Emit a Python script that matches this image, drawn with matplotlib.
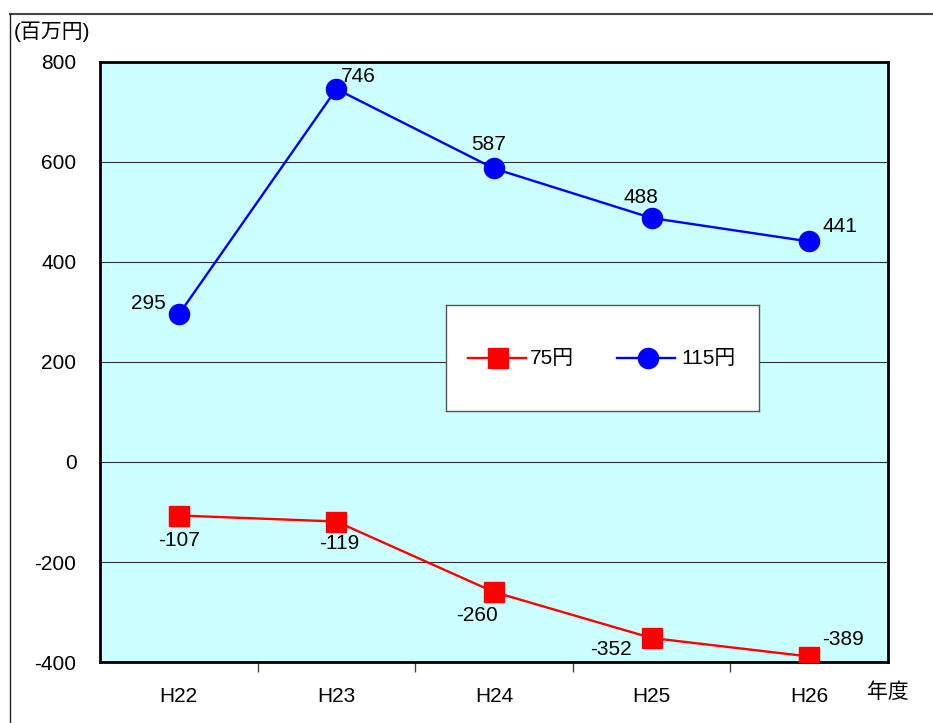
import matplotlib
matplotlib.use("Agg")
import matplotlib.pyplot as plt
from matplotlib.lines import Line2D
from matplotlib.ticker import FixedLocator

plt.rcParams['font.family'] = ['Liberation Sans', 'Noto Sans CJK JP', 'DejaVu Sans']

categories = ["H22", "H23", "H24", "H25", "H26"]
yen75 = [-107, -119, -260, -352, -389]
yen115 = [295, 746, 587, 488, 441]
yticks = [-400, -200, 0, 200, 400, 600, 800]

FS = 15
W, H = 933, 723
fig = plt.figure(figsize=(W/100, H/100), dpi=100)
ax = fig.add_axes([100/W, 1-662/H, 788/W, 600/H])
ax.set_facecolor('#CCFFFF')

x = list(range(len(categories)))
ax.plot(x, yen75, color='#FF0000', lw=1.7, marker='s', ms=14.5, mfc='#FF0000', mec='#FF0000', zorder=3)
ax.plot(x, yen115, color='#0000FF', lw=1.7, marker='o', ms=14.5, mfc='#0000FF', mec='#0000FF', zorder=3)

ax.set_xlim(-0.5, 4.5)
ax.set_ylim(-400, 800)
ax.set_yticks(yticks)
ax.set_yticklabels([str(v) for v in yticks], fontsize=FS)
ax.tick_params(axis='y', length=0, pad=17)
ax.set_xticks(x)
ax.set_xticklabels(categories, fontsize=FS)
ax.tick_params(axis='x', which='major', length=0, pad=18)
ax.xaxis.set_minor_locator(FixedLocator([0.5, 1.5, 2.5, 3.5]))
ax.tick_params(axis='x', which='minor', length=7, width=1, direction='out', color='#444444')
for v in [-200, 0, 200, 400, 600]:
    ax.axhline(v, color='#333333', lw=0.8, zorder=1)
for s in ax.spines.values():
    s.set_linewidth(2)
    s.set_color('black')

# data labels (offsets in points)
off115 = [(-22, 8), (16, 9), (-4, 17), (-8, 15), (22, 11)]
off75 = [(0, -18), (2, -16), (-12, -17), (-29, -8), (24, 12)]
for i, v in enumerate(yen115):
    ax.annotate(str(v), (i, v), xytext=off115[i], textcoords='offset points',
                ha='center', va='center', fontsize=FS)
for i, v in enumerate(yen75):
    ax.annotate(str(v), (i, v), xytext=off75[i], textcoords='offset points',
                ha='center', va='center', fontsize=FS)

# legend box
lax = fig.add_axes([446/W, 1-411/H, 313/W, 106/H])
lax.set_xlim(0, 313); lax.set_ylim(0, 106)
lax.set_xticks([]); lax.set_yticks([])
lax.set_facecolor('white')
for s in lax.spines.values():
    s.set_color('#555555'); s.set_linewidth(1)
lax.add_line(Line2D([22, 80], [53, 53], color='#FF0000', lw=1.7))
lax.plot([52], [53], marker='s', ms=14.5, color='#FF0000')
lax.text(84, 53, "75円", fontsize=FS, va='center', ha='left')
lax.add_line(Line2D([171, 229], [53, 53], color='#0000FF', lw=1.7))
lax.plot([202], [53], marker='o', ms=14.5, color='#0000FF')
lax.text(235, 53, "115円", fontsize=FS, va='center', ha='left')

fig.text(14/W, 1-32/H, "(百万円)", fontsize=FS, va='center', ha='left')
fig.text(888/W, 1-692/H, "年度", fontsize=FS, va='center', ha='center')

# outer frame lines
fig.add_artist(Line2D([10/W, 1], [1-14/H, 1-14/H], color='#444444', lw=1.5, transform=fig.transFigure))
fig.add_artist(Line2D([10/W, 10/W], [1-14/H, 0], color='#222222', lw=1, transform=fig.transFigure))

fig.savefig("out.png", dpi=100)
